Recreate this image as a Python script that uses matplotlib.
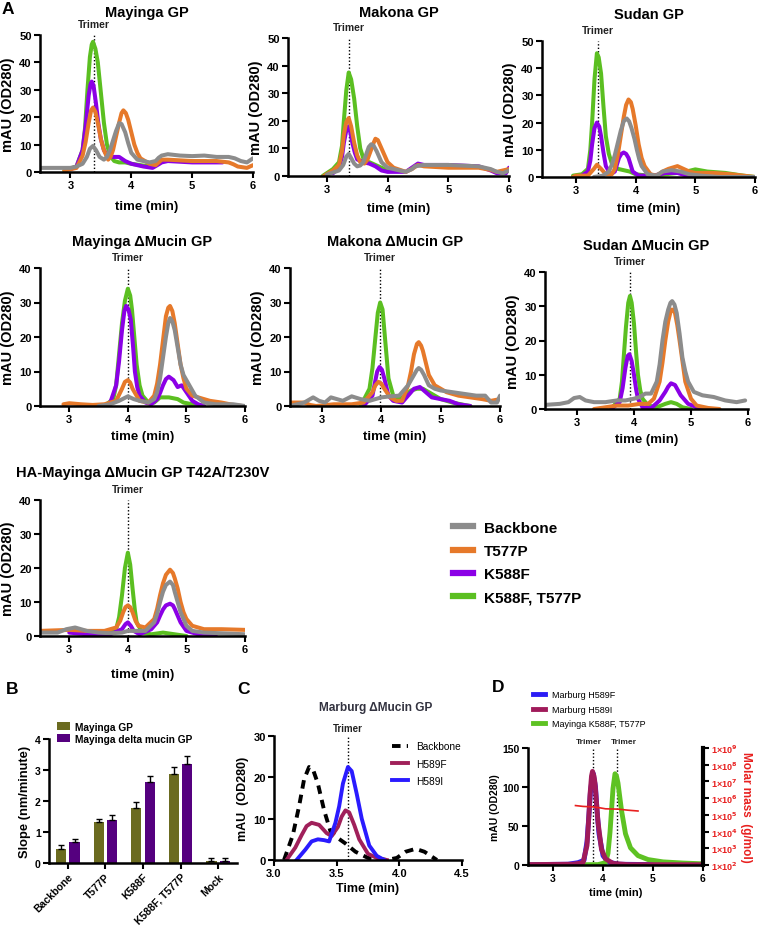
import numpy as np
import matplotlib
matplotlib.use('Agg')
import matplotlib.pyplot as plt
from matplotlib.lines import Line2D

plt.rcParams['font.family'] = ['Liberation Sans', 'DejaVu Sans']
plt.rcParams['font.weight'] = 'bold'
plt.rcParams['axes.labelweight'] = 'bold'

# ---- panel A: size exclusion traces, (time, mAU) pairs
series_names = ['Backbone', 'T577P', 'K588F', 'K588F, T577P']
series_colors = ['#8c8c8c', '#e6792a', '#8b00e6', '#5bbf21']

mayinga_gp = {
    'Backbone': [(2.5, 1.5), (2.8, 1.5), (3.0, 1.5), (3.1, 2), (3.2, 3), (3.27, 5.5), (3.32, 8.5), (3.37, 9.5), (3.42, 8),
                 (3.48, 5.5), (3.55, 4.5), (3.6, 5.5), (3.65, 8), (3.7, 11.5), (3.75, 15), (3.8, 17.8), (3.84, 17.5),
                 (3.9, 14.5), (3.95, 10.5), (4.0, 7), (4.1, 4.5), (4.2, 4), (4.3, 3.5), (4.4, 4), (4.45, 5.2), (4.5, 6),
                 (4.6, 6.5), (4.8, 6), (5.0, 5.8), (5.2, 6), (5.4, 5.5), (5.6, 5.5), (5.7, 5), (5.8, 4), (5.9, 3.5), (6.0, 5)],
    'T577P': [(2.9, 0.5), (3.1, 1.5), (3.2, 6), (3.25, 11), (3.3, 18), (3.34, 22.5), (3.37, 23.5), (3.41, 22), (3.45, 18),
              (3.5, 12), (3.55, 8), (3.62, 4.5), (3.66, 5.5), (3.7, 8), (3.75, 13), (3.8, 18), (3.84, 21.5), (3.87, 22.5),
              (3.91, 21.5), (3.95, 19), (4.0, 14.5), (4.05, 10), (4.1, 7), (4.15, 5), (4.3, 3), (4.4, 2.5), (4.45, 3.5),
              (4.5, 4.5), (4.6, 4.5), (5.0, 4), (5.4, 4), (5.6, 3.5), (5.68, 2.8), (5.75, 2), (5.9, 1.5), (6.0, 2.5)],
    'K588F': [(3.0, 1), (3.1, 2), (3.2, 8), (3.25, 17), (3.3, 28), (3.33, 32), (3.35, 33), (3.38, 31.5), (3.42, 25),
              (3.46, 17.5), (3.5, 12), (3.55, 8), (3.6, 6), (3.7, 5.5), (3.8, 5.5), (3.9, 4), (4.0, 3), (4.2, 2),
              (4.35, 1.5), (4.45, 2.8), (4.5, 3.5), (4.6, 4), (5.0, 3.5), (5.5, 3.5)],
    'K588F, T577P': [(2.9, 0.5), (3.1, 2), (3.2, 8), (3.24, 16), (3.28, 30), (3.32, 42), (3.35, 46.5), (3.37, 47.5),
                     (3.41, 45), (3.45, 40), (3.5, 29), (3.55, 18), (3.6, 10), (3.65, 6), (3.72, 4), (3.8, 3.5),
                     (3.9, 3.5), (4.0, 3), (4.3, 2)],
}

makona_gp = {
    'Backbone': [(3.0, 0.5), (3.2, 2), (3.27, 4), (3.32, 7), (3.36, 8), (3.4, 6.5), (3.45, 4.5), (3.5, 3.5), (3.55, 3.8),
                 (3.6, 5), (3.65, 8), (3.69, 10.5), (3.73, 11.5), (3.77, 11), (3.82, 9), (3.86, 7), (3.9, 5), (4.0, 3),
                 (4.2, 2), (4.3, 1.5), (4.4, 2.5), (4.45, 3.5), (4.6, 4), (5.0, 4), (5.5, 3.5), (5.7, 2.5), (5.8, 1.5),
                 (5.9, 1), (6.0, 2)],
    'T577P': [(2.95, 0), (3.1, 2), (3.2, 4), (3.25, 9), (3.28, 15), (3.32, 19.5), (3.36, 21), (3.4, 18), (3.45, 12),
              (3.5, 7.5), (3.55, 5), (3.62, 4.5), (3.67, 6), (3.72, 9), (3.77, 12), (3.8, 13.5), (3.84, 13), (3.88, 11),
              (3.94, 8), (4.0, 5), (4.1, 3), (4.3, 1.5), (4.4, 2.5), (4.5, 4), (4.6, 3.5), (5.0, 3), (5.5, 3),
              (5.7, 2.2), (5.8, 1.5), (6.0, 2.5)],
    'K588F': [(3.1, 1), (3.2, 3), (3.25, 7), (3.28, 12), (3.32, 16.5), (3.36, 18), (3.39, 15.5), (3.42, 12), (3.46, 8.5),
              (3.5, 6), (3.6, 5), (3.7, 4.5), (3.8, 3.5), (3.9, 2), (4.0, 1.5), (4.3, 1.5), (4.4, 3), (4.5, 4.5),
              (4.6, 4), (5.0, 4), (5.5, 3.5), (5.7, 2), (5.8, 1), (5.95, 1), (6.0, 3)],
    'K588F, T577P': [(2.93, 0), (3.1, 2.5), (3.2, 5), (3.25, 11), (3.28, 20), (3.32, 31), (3.36, 37.5), (3.4, 35),
                     (3.45, 28), (3.5, 18), (3.55, 10), (3.62, 5), (3.7, 5), (3.8, 4), (4.0, 2)],
}

sudan_gp = {
    'Backbone': [(3.3, 0), (3.45, 0.5), (3.55, 2), (3.6, 4.5), (3.65, 8), (3.7, 12.5), (3.75, 17), (3.8, 20.5),
                 (3.85, 21.5), (3.89, 20.5), (3.93, 18), (3.98, 14), (4.02, 10), (4.06, 6.5), (4.1, 4), (4.2, 1),
                 (4.35, 0.5), (4.45, 2), (4.6, 2.5), (4.75, 2), (4.9, 1), (5.1, 0.5), (5.4, 0), (6.0, 0)],
    'T577P': [(2.95, 0), (3.0, 0.5), (3.2, 0.5), (3.3, 3), (3.35, 4.5), (3.42, 3), (3.5, 1), (3.6, 1), (3.65, 3),
              (3.7, 8), (3.75, 15), (3.8, 22), (3.84, 26.5), (3.88, 28.5), (3.92, 27.5), (3.95, 25), (4.0, 19),
              (4.05, 12), (4.1, 7), (4.15, 4), (4.25, 1), (4.35, 0.5), (4.45, 2), (4.55, 3), (4.7, 4), (4.8, 3),
              (4.9, 2), (5.0, 1.5), (5.3, 1.5), (5.6, 1), (5.8, 0.5), (6.0, 0)],
    'K588F': [(3.1, 0.5), (3.2, 2), (3.24, 6), (3.27, 12), (3.31, 18), (3.35, 20), (3.39, 18.5), (3.42, 15), (3.46, 9),
              (3.5, 4), (3.58, 1), (3.65, 2), (3.72, 7), (3.76, 8.5), (3.8, 9), (3.84, 8.5), (3.88, 7), (3.95, 2),
              (4.05, 0.5), (4.3, 0.5), (4.5, 1.5), (4.7, 1.5), (4.85, 0.5), (5.0, 0)],
    'K588F, T577P': [(2.95, 0.5), (3.1, 1), (3.2, 3), (3.24, 10), (3.27, 20), (3.31, 36), (3.35, 45.5), (3.38, 44),
                     (3.42, 38), (3.46, 26), (3.5, 15), (3.55, 8.5), (3.6, 5), (3.7, 3), (3.8, 2.5), (3.9, 2), (4.0, 1),
                     (4.2, 0.5), (4.5, 1), (4.7, 1.5), (4.85, 2), (5.0, 2.8), (5.2, 2), (5.5, 1.5), (5.8, 0.5), (6.0, 0)],
}

mayinga_dm = {
    'Backbone': [(3.5, 0), (3.7, 0.5), (3.85, 1.5), (4.0, 2.8), (4.1, 2), (4.2, 1.5), (4.35, 1), (4.45, 2), (4.5, 4),
                 (4.55, 8), (4.6, 14), (4.65, 20), (4.69, 24), (4.72, 25.5), (4.76, 24.5), (4.8, 22), (4.85, 17),
                 (4.9, 12), (4.95, 9), (5.05, 6), (5.15, 3), (5.3, 1), (5.5, 0.5), (5.8, 0.5), (6.0, 0)],
    'T577P': [(2.9, 0.5), (3.0, 0.8), (3.2, 0.5), (3.4, 0.3), (3.6, 0.5), (3.8, 1.5), (3.9, 5), (3.95, 7), (4.0, 7.5),
              (4.04, 6.8), (4.08, 5), (4.2, 1.5), (4.35, 1), (4.45, 3), (4.5, 6.5), (4.55, 12), (4.6, 19), (4.65, 26),
              (4.69, 28.5), (4.72, 29), (4.76, 27.5), (4.8, 24), (4.85, 18), (4.9, 12), (4.95, 8), (5.0, 5), (5.1, 3),
              (5.2, 2.5), (5.4, 1.5), (5.6, 1), (5.8, 0.3), (5.95, 0)],
    'K588F': [(3.6, 0), (3.7, 1), (3.8, 6), (3.85, 13), (3.9, 22), (3.94, 27.5), (3.97, 29), (4.01, 28), (4.05, 25),
              (4.09, 17), (4.12, 10), (4.16, 5.5), (4.2, 3), (4.3, 1), (4.4, 0.5), (4.5, 2), (4.55, 3.8), (4.6, 6),
              (4.65, 7.8), (4.7, 8.5), (4.78, 7.5), (4.85, 5.5), (4.92, 6), (5.0, 4), (5.1, 1.5), (5.2, 0.5), (5.3, 0)],
    'K588F, T577P': [(3.6, 0), (3.75, 2), (3.8, 6), (3.85, 15), (3.9, 24), (3.95, 30.5), (4.0, 34), (4.04, 32),
                     (4.07, 28), (4.11, 20), (4.15, 12), (4.2, 6), (4.25, 3), (4.35, 1), (4.45, 1), (4.55, 2.5),
                     (4.7, 2.5), (4.85, 2), (4.95, 1), (5.1, 0.5), (5.3, 0)],
}

makona_dm = {
    'Backbone': [(2.46, 0), (2.7, 1), (2.85, 2.5), (2.95, 1.5), (3.05, 1), (3.15, 2.5), (3.25, 2), (3.35, 1.5), (3.5, 2.8),
                 (3.65, 2), (3.8, 1.5), (4.0, 2.5), (4.15, 2.8), (4.3, 3), (4.45, 6), (4.55, 9), (4.6, 10.5), (4.63, 11),
                 (4.67, 10.5), (4.72, 9), (4.8, 6), (4.9, 5), (5.0, 4.5), (5.2, 4), (5.4, 3.5), (5.6, 3), (5.75, 3),
                 (5.85, 1), (5.95, 1), (6.0, 3)],
    'T577P': [(2.46, 1), (2.7, 1), (2.8, 0.3), (2.9, 0), (3.2, 0.5), (3.5, 0.5), (3.7, 1), (3.85, 4), (3.9, 6), (3.95, 7),
              (4.0, 6.5), (4.05, 5), (4.15, 2.5), (4.25, 1.5), (4.35, 1.5), (4.45, 6), (4.5, 10), (4.55, 15), (4.6, 18),
              (4.63, 18.5), (4.67, 17.5), (4.7, 16), (4.75, 12.5), (4.8, 9), (4.9, 6), (5.0, 5), (5.1, 4), (5.3, 3),
              (5.5, 2.5), (5.7, 2), (5.85, 1.5), (6.0, 2)],
    'K588F': [(3.7, 0), (3.85, 3), (3.9, 7.5), (3.93, 10), (3.97, 11.3), (4.01, 10.5), (4.05, 8), (4.12, 3), (4.2, 1.5),
              (4.35, 1), (4.45, 3), (4.55, 5), (4.65, 5.5), (4.75, 4), (4.85, 2.5), (5.0, 2), (5.15, 1.5), (5.3, 0.5),
              (5.5, 0)],
    'K588F, T577P': [(3.65, 0), (3.8, 5), (3.85, 11), (3.9, 20), (3.94, 27), (3.98, 30), (4.02, 28), (4.05, 22),
                     (4.09, 14), (4.12, 8), (4.2, 3), (4.3, 2), (4.4, 3), (4.5, 4.5), (4.6, 5), (4.7, 5), (4.8, 4),
                     (4.9, 3), (5.0, 2), (5.2, 1), (5.4, 0.3), (5.5, 0)],
}

sudan_dm = {
    'Backbone': [(2.44, 1.2), (2.7, 1.5), (2.85, 2), (2.95, 3.2), (3.05, 3.5), (3.15, 2.5), (3.3, 2), (3.5, 2), (3.7, 2.5),
                 (3.85, 2.5), (4.0, 3), (4.1, 3.5), (4.2, 4.5), (4.3, 4.5), (4.4, 8), (4.45, 13), (4.5, 20), (4.55, 25.5),
                 (4.6, 29), (4.64, 31), (4.67, 31.5), (4.71, 30.5), (4.75, 28), (4.8, 22), (4.85, 15), (4.9, 11),
                 (4.95, 8), (5.05, 5), (5.2, 4), (5.4, 3.5), (5.6, 2.5), (5.8, 2), (5.95, 2.5)],
    'T577P': [(3.3, 0), (3.5, 0.5), (3.7, 1), (3.9, 1), (4.1, 1.5), (4.25, 1.5), (4.35, 3), (4.45, 8), (4.5, 13.5),
              (4.55, 20), (4.6, 25.5), (4.65, 29), (4.69, 29), (4.72, 28), (4.76, 24.5), (4.8, 20), (4.85, 14),
              (4.9, 8), (5.0, 3), (5.1, 1), (5.3, 0.3), (5.5, 0)],
    'K588F': [(3.6, 0), (3.75, 2), (3.8, 6), (3.85, 12), (3.89, 15.5), (3.92, 16), (3.96, 14), (4.0, 10), (4.04, 5.5),
              (4.07, 3), (4.15, 0.5), (4.3, 0.2), (4.45, 2.5), (4.55, 5), (4.6, 6.5), (4.65, 7.5), (4.72, 7),
              (4.82, 4), (4.95, 1.5), (5.1, 0.5), (5.3, 0)],
    'K588F, T577P': [(3.6, 0), (3.75, 3), (3.79, 8), (3.82, 15), (3.86, 24), (3.9, 31), (3.93, 33), (3.96, 31),
                     (4.0, 25), (4.04, 16), (4.07, 10), (4.11, 5.5), (4.15, 3), (4.25, 1), (4.4, 0.5), (4.55, 1.5),
                     (4.65, 2), (4.75, 1.5), (4.85, 0.5), (5.0, 0)],
}

ha_mayinga_dm = {
    'Backbone': [(2.5, 1), (2.8, 1), (2.95, 2), (3.1, 2.5), (3.3, 1.5), (3.5, 1), (3.7, 0.8), (3.9, 1), (4.0, 1.5),
                 (4.15, 1.5), (4.3, 1.5), (4.45, 4), (4.5, 6.5), (4.55, 10), (4.6, 13), (4.65, 15), (4.72, 16),
                 (4.77, 15), (4.8, 13), (4.85, 10), (4.9, 7), (5.0, 3), (5.1, 1.5), (5.3, 1), (5.6, 0.8), (6.0, 0.5)],
    'T577P': [(2.5, 1.5), (3.0, 1.8), (3.3, 1.5), (3.6, 1.5), (3.8, 2.5), (3.87, 4.5), (3.92, 7), (3.96, 8.5), (4.0, 9),
              (4.04, 8.5), (4.08, 7), (4.13, 4.5), (4.18, 3), (4.3, 2.5), (4.45, 5), (4.5, 8), (4.55, 12), (4.6, 15.5),
              (4.65, 18), (4.72, 19.5), (4.77, 18.5), (4.8, 17), (4.85, 14), (4.9, 10), (4.95, 7), (5.0, 5), (5.1, 3),
              (5.3, 2), (5.6, 2), (6.0, 1.8)],
    'K588F': [(3.0, 1), (3.3, 0.5), (3.7, 0.5), (3.9, 2), (3.96, 3.5), (4.0, 4), (4.05, 3), (4.1, 1.5), (4.2, 0.5),
              (4.4, 2), (4.5, 4), (4.55, 6), (4.6, 7.8), (4.65, 9), (4.72, 9.5), (4.77, 9), (4.8, 8), (4.85, 6),
              (4.9, 4), (5.0, 1.5), (5.2, 0.5), (5.5, 0)],
    'K588F, T577P': [(3.6, 0), (3.8, 2), (3.85, 5.5), (3.9, 12), (3.95, 20), (4.0, 24.5), (4.04, 21), (4.08, 14),
                     (4.12, 7.5), (4.15, 4), (4.25, 1), (4.4, 0.5), (4.6, 1), (4.8, 0.5), (5.0, 0)],
}

# ---- panel B
b_categories = ['Backbone', 'T577P', 'K588F', 'K588F, T577P', 'Mock']
b_mayinga = [0.45, 1.33, 1.77, 2.88, 0.07]
b_mayinga_err = [0.13, 0.10, 0.20, 0.22, 0.10]
b_delta = [0.67, 1.40, 2.62, 3.18, 0.07]
b_delta_err = [0.12, 0.16, 0.20, 0.28, 0.10]

# ---- panel C
c_backbone = [(3.08, 0), (3.15, 6), (3.2, 13), (3.24, 19.5), (3.28, 22.5), (3.31, 22), (3.35, 18.5), (3.4, 12),
              (3.45, 7), (3.5, 5.5), (3.57, 4), (3.65, 2), (3.75, 0.5), (3.9, 0), (3.98, 0.5), (4.05, 2), (4.13, 2.7),
              (4.2, 2), (4.3, 0)]
c_h589f = [(3.1, 0), (3.17, 3), (3.22, 6), (3.26, 8.2), (3.3, 9), (3.36, 8.5), (3.42, 6.5), (3.46, 5.8), (3.51, 8),
           (3.54, 10.5), (3.57, 12), (3.6, 11.5), (3.64, 8.5), (3.68, 5), (3.75, 1.5), (3.82, 0.5), (3.9, 0)]
c_h589i = [(3.18, 0), (3.25, 2.5), (3.3, 4.5), (3.35, 5), (3.4, 4.8), (3.44, 4.5), (3.49, 9), (3.52, 13), (3.55, 18.5),
           (3.59, 22.5), (3.62, 21.5), (3.66, 16), (3.7, 10), (3.76, 3.5), (3.82, 1), (3.88, 0)]

# ---- panel D
d_h589f = [(2.5, 0.5), (3.3, 1), (3.5, 3), (3.62, 6), (3.68, 30), (3.72, 65), (3.75, 95), (3.8, 118), (3.85, 100),
           (3.88, 70), (3.92, 40), (4.0, 12), (4.1, 4), (4.3, 1), (5.0, 0.5), (6.0, 0.5)]
d_h589i = [(2.5, 0.5), (3.4, 1), (3.6, 3), (3.68, 25), (3.71, 55), (3.74, 90), (3.77, 114), (3.79, 120), (3.82, 114),
           (3.84, 105), (3.87, 80), (3.9, 55), (3.97, 20), (4.05, 8), (4.2, 2), (4.5, 0.5), (6.0, 0.3)]
d_green = [(2.5, 0), (3.9, 0.5), (4.05, 3), (4.1, 15), (4.14, 42), (4.17, 70), (4.2, 98), (4.24, 117), (4.27, 114),
           (4.3, 105), (4.37, 70), (4.45, 40), (4.55, 22), (4.7, 12), (4.9, 7), (5.2, 4), (5.6, 2.5), (6.0, 1.5)]
d_molar = [(3.45, 3.6e5), (3.6, 3.2e5), (3.8, 3.0e5), (3.95, 2.6e5), (4.05, 2.3e5), (4.3, 2.2e5), (4.5, 1.9e5), (4.7, 1.7e5)]

fig = plt.figure(figsize=(7.6, 9.28), dpi=100)


def px(l, t, r, b):
    return [l / 760, 1 - b / 928, (r - l) / 760, (b - t) / 928]


def style(ax, fs=8):
    for s in ['top', 'right']:
        ax.spines[s].set_visible(False)
    for s in ['left', 'bottom']:
        ax.spines[s].set_linewidth(1.8)
    ax.tick_params(width=1.5, length=4, labelsize=fs, pad=2)
    for lab in ax.get_xticklabels() + ax.get_yticklabels():
        lab.set_fontweight('bold')


def trimer(ax, x, fs=7.5, off=4, dx=0):
    ax.axvline(x, color='k', ls=(0, (1, 1.5)), lw=1, zorder=0)
    ax.annotate('Trimer', xy=(x, 1), xycoords=('data', 'axes fraction'), xytext=(dx, off),
                textcoords='offset points', ha='center', va='bottom', fontsize=fs, fontweight='bold', color='#222222')


def chrom(rect, data, xlim, ymax, title, title_y, trimer_x, xlabel_y):
    ax = fig.add_axes(px(*rect))
    for name in ['K588F, T577P', 'K588F', 'T577P', 'Backbone']:
        pts = np.array(data[name])
        ax.plot(pts[:, 0], pts[:, 1], color=series_colors[series_names.index(name)], lw=2.9,
                solid_capstyle='round', solid_joinstyle='round')
    ax.set_xlim(*xlim)
    ax.set_ylim(0, ymax)
    ax.set_xticks([3, 4, 5, 6])
    ax.set_yticks(np.arange(0, ymax + 1, 10))
    ax.set_ylabel('mAU (OD280)', fontsize=10.5, labelpad=3)
    style(ax)
    trimer(ax, trimer_x)
    cx = (rect[0] + rect[2]) / 2
    fig.text(cx / 760, 1 - title_y / 928, title, ha='center', va='center', fontsize=10.5, fontweight='bold')
    fig.text(cx / 760, 1 - xlabel_y / 928, 'time (min)', ha='center', va='center', fontsize=9.5, fontweight='bold')
    return ax


chrom((40, 36, 253, 173), mayinga_gp, (2.5, 6), 50, 'Mayinga GP', 13, 3.38, 207)
chrom((288, 39, 509, 177), makona_gp, (2.36, 6), 50, 'Makona GP', 13, 3.37, 209)
chrom((542, 42, 755, 178), sudan_gp, (2.43, 6), 50, 'Sudan GP', 15, 3.37, 209)
chrom((40, 269, 245, 407), mayinga_dm, (2.5, 6), 40, 'Mayinga \u0394Mucin GP', 242, 4.0, 437)
chrom((290, 269, 500, 407), makona_dm, (2.46, 6), 40, 'Makona \u0394Mucin GP', 242, 3.98, 437)
chrom((545, 273, 748, 410), sudan_dm, (2.44, 6), 40, 'Sudan \u0394Mucin GP', 246, 3.93, 440)
chrom((40, 501, 245, 637), ha_mayinga_dm, (2.5, 6), 40, 'HA-Mayinga \u0394Mucin GP T42A/T230V', 473, 4.0, 675)

handles = [Line2D([], [], color=c, lw=4.5) for c in series_colors]
fig.legend(handles, series_names, loc='upper left', bbox_to_anchor=(439 / 760, 1 - 508 / 928), frameon=False,
           handlelength=1.35, handletextpad=0.7, labelspacing=0.6, prop={'size': 11, 'weight': 'bold'})

# ---- B
axb = fig.add_axes(px(49, 740, 237, 864))
xb = np.arange(len(b_categories))
w = 0.27
axb.bar(xb - 0.18, b_mayinga, w, color='#6b6b20', yerr=[np.zeros(5), b_mayinga_err],
        error_kw=dict(ecolor='k', lw=1, capsize=2.5, capthick=1), label='Mayinga GP')
axb.bar(xb + 0.18, b_delta, w, color='#55007f', yerr=[np.zeros(5), b_delta_err],
        error_kw=dict(ecolor='k', lw=1, capsize=2.5, capthick=1), label='Mayinga delta mucin GP')
axb.set_xlim(-0.5, 4.5)
axb.set_ylim(0, 4)
axb.set_yticks([0, 1, 2, 3, 4])
axb.set_xticks(xb)
axb.set_xticklabels(b_categories, rotation=45, ha='right', rotation_mode='anchor')
axb.set_ylabel('Slope (nm/minute)', fontsize=9.3, labelpad=3)
style(axb, fs=7.5)
axb.legend(loc='lower left', bbox_to_anchor=(0.02, 0.93), frameon=False, fontsize=7.3, handlelength=1.3,
           handleheight=0.8, handletextpad=0.5, labelspacing=0.2, borderaxespad=0)

# ---- C
axc = fig.add_axes(px(274, 737, 462, 861))
pts = np.array(c_backbone)
axc.plot(pts[:, 0], pts[:, 1], color='k', lw=2.8, ls=(0, (2.2, 1.6)), label='Backbone')
pts = np.array(c_h589f)
axc.plot(pts[:, 0], pts[:, 1], color='#a0205a', lw=2.8, label='H589F', solid_joinstyle='round')
pts = np.array(c_h589i)
axc.plot(pts[:, 0], pts[:, 1], color='#2a1bff', lw=2.8, label='H589I', solid_joinstyle='round')
axc.set_xlim(3.0, 4.5)
axc.set_ylim(0, 30)
axc.set_xticks([3.0, 3.5, 4.0, 4.5])
axc.set_xticklabels(['3.0', '3.5', '4.0', '4.5'])
axc.set_yticks([0, 10, 20, 30])
axc.set_ylabel('mAU  (OD280)', fontsize=9, labelpad=3)
axc.set_xlabel('Time (min)', fontsize=9, labelpad=3)
style(axc)
trimer(axc, 3.59, fs=7, off=2)
axc.legend(loc='upper right', bbox_to_anchor=(1.04, 1.03), frameon=False, handlelength=1.5,
           prop={'size': 7.3, 'weight': 'normal'}, labelspacing=0.7)
fig.text(376 / 760, 1 - 708 / 928, 'Marburg \u0394Mucin GP', ha='center', va='center', fontsize=8.6,
         fontweight='bold', color='#333340')

# ---- D
axd = fig.add_axes(px(528, 749, 703, 866))
pts = np.array(d_h589f)
axd.plot(pts[:, 0], pts[:, 1], color='#2b1cf5', lw=3.5, label='Marburg H589F', solid_joinstyle='round')
pts = np.array(d_green)
axd.plot(pts[:, 0], pts[:, 1], color='#5ec223', lw=3.5, label='Mayinga K588F, T577P', solid_joinstyle='round')
pts = np.array(d_h589i)
axd.plot(pts[:, 0], pts[:, 1], color='#a01a5a', lw=3.5, label='Marburg H589I', solid_joinstyle='round')
axd.set_xlim(2.5, 6)
axd.set_ylim(0, 150)
axd.set_xticks([3, 4, 5, 6])
axd.set_yticks([0, 50, 100, 150])
axd.set_ylabel('mAU (OD280)', fontsize=7.5, labelpad=2)
axd.set_xlabel('time (min)', fontsize=8, labelpad=3)
style(axd, fs=7.5)
trimer(axd, 3.8, fs=6, off=2, dx=-3)
trimer(axd, 4.27, fs=6, off=2, dx=5)
h, l = axd.get_legend_handles_labels()
order = [0, 2, 1]
axd.legend([h[i] for i in order], [l[i] for i in order], loc='lower left', bbox_to_anchor=(-0.02, 1.1),
           frameon=False, handlelength=1.4, prop={'size': 6.5, 'weight': 'normal'}, labelspacing=0.6)

axd2 = axd.twinx()
pts = np.array(d_molar)
axd2.plot(pts[:, 0], pts[:, 1], color='#e8201f', lw=1.2)
axd2.set_yscale('log')
axd2.set_ylim(1e2, 1e9)
axd2.set_yticks([10.0 ** k for k in range(2, 10)])
axd2.set_yticklabels(['1\u00d710$^{%d}$' % k for k in range(2, 10)])
axd2.yaxis.set_minor_locator(matplotlib.ticker.NullLocator())
axd2.spines['top'].set_visible(False)
axd2.spines['right'].set_linewidth(3)
axd2.tick_params(axis='y', width=1.5, length=4, labelsize=6.5, labelcolor='#e8201f', pad=2)
for lab in axd2.get_yticklabels():
    lab.set_fontweight('bold')
axd2.set_ylabel('Molar mass  (g/mol)', color='#e8201f', fontsize=8.5, rotation=-90, labelpad=10)

# panel letters
for letter, x, y in [('A', 8, 10), ('B', 12, 690), ('C', 243, 690), ('D', 498, 688)]:
    fig.text(x / 760, 1 - y / 928, letter, ha='center', va='center', fontsize=12.5, fontweight='bold')

fig.savefig('out.png', dpi=100)
